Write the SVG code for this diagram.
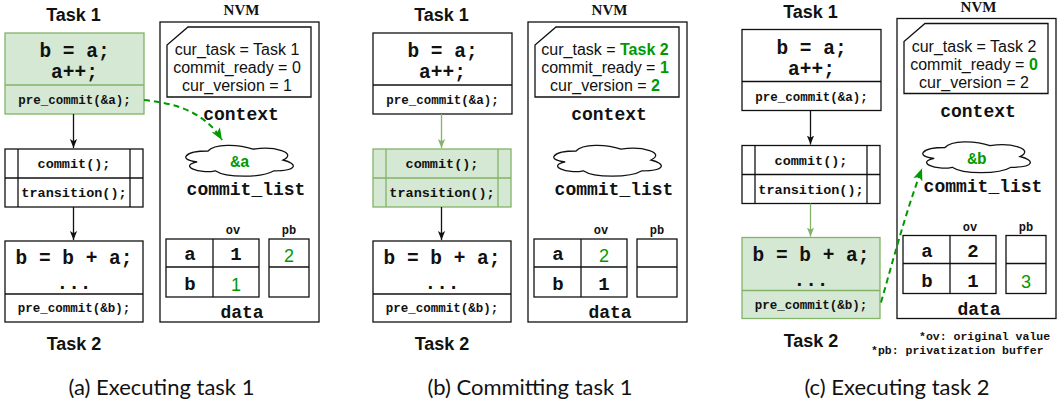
<svg xmlns="http://www.w3.org/2000/svg" width="1064" height="405" viewBox="0 0 1064 405">
<style>
.bg{fill:#fff}
.box{fill:#fff;stroke:#111;stroke-width:1.3}
.gbox{fill:#d5e8d4;stroke:#82b366;stroke-width:1.3}
.ln{stroke:#111;stroke-width:1.3;fill:none}
.gln{stroke:#82b366;stroke-width:1.3;fill:none}
.code{font-family:"Liberation Mono",monospace;font-weight:bold;text-anchor:middle;fill:#111}
.big{font-size:19.5px}
.mid{font-size:13.5px}
.sm{font-size:12.5px}
.lbl{font-size:18px}
.cell{font-size:19px}
.hd{font-size:12px}
.ctx{font-family:"Liberation Sans",Arial,sans-serif;font-size:16px;text-anchor:middle;fill:#111}
.task{font-family:"Liberation Sans",Arial,sans-serif;font-size:18px;font-weight:bold;text-anchor:middle;fill:#111}
.nvm{font-family:"Liberation Serif",serif;font-size:15px;font-weight:bold;text-anchor:middle;fill:#111}
.gv{font-family:"Liberation Sans",Arial,sans-serif;font-size:18px;text-anchor:middle;fill:#009900}
.gb{fill:#009900;font-weight:bold}
.gcode{fill:#009900}
.cap{font-family:Lato,"Noto Sans",sans-serif;font-size:22px;text-anchor:middle;fill:#111}
.foot{font-family:"Liberation Mono",monospace;font-weight:bold;font-size:11.5px;fill:#111}
.arr{stroke:#111;stroke-width:1.3;fill:none;marker-end:url(#mk)}
.garr{stroke:#82b366;stroke-width:1.3;fill:none;marker-end:url(#mkg)}
.darr{stroke:#009900;stroke-width:2;fill:none;stroke-dasharray:6 4;marker-end:url(#mkd)}
</style>
<defs>
<marker id="mk" viewBox="0 0 10 10" markerWidth="9" markerHeight="9" refX="10" refY="5" orient="auto" markerUnits="userSpaceOnUse"><path d="M0,1 L10,5 L0,9 L2.5,5 Z" fill="#111"/></marker>
<marker id="mkg" viewBox="0 0 10 10" markerWidth="9" markerHeight="9" refX="10" refY="5" orient="auto" markerUnits="userSpaceOnUse"><path d="M0,1 L10,5 L0,9 L2.5,5 Z" fill="#82b366"/></marker>
<marker id="mkd" viewBox="0 0 10 10" markerWidth="12" markerHeight="12" refX="10" refY="5" orient="auto" markerUnits="userSpaceOnUse"><path d="M0,1 L10,5 L0,9 L2.5,5 Z" fill="#009900"/></marker>
<path id="cloud" class="box" d="M208,151 C184,151 178,160 197.2,161.8 C178,165.76 199.6,174.4 215.2,170.8 C226,178 262,178 274,170.8 C298,170.8 298,163.6 283,160 C298,152.8 274,145.6 253,149.2 C238,143.8 214,143.8 208,151 Z"/>
<path id="ctxbox" class="box" d="M188,27 L311,27 L311,97 L167,97 L167,45 Z"/>
</defs>
<rect class="bg" x="0" y="0" width="1064" height="405"/>

<!-- ===== Panel (a) ===== -->
<g id="panel-a">
  <g id="a-task1">
    <text class="task" x="73.5" y="21">Task 1</text>
    <rect class="gbox" x="5" y="33" width="139" height="81"/>
    <line class="gln" x1="5" y1="85" x2="144" y2="85"/>
    <text class="code big" x="74.5" y="57">b = a;</text>
    <text class="code big" x="74.5" y="78">a++;</text>
    <text class="code sm" x="74.5" y="104">pre_commit(&amp;a);</text>
  </g>
  <g id="a-commit">
    <rect class="box" x="5" y="149" width="138" height="58"/>
    <line class="ln" x1="18" y1="149" x2="18" y2="207"/>
    <line class="ln" x1="130" y1="149" x2="130" y2="207"/>
    <line class="ln" x1="5" y1="178" x2="143" y2="178"/>
    <text class="code mid" x="74" y="168">commit();</text>
    <text class="code mid" x="74" y="197">transition();</text>
  </g>
  <g id="a-task2">
    <rect class="box" x="5" y="241" width="138" height="81"/>
    <line class="ln" x1="5" y1="294" x2="143" y2="294"/>
    <text class="code big" x="74" y="264">b = b + a;</text>
    <text class="code big" x="74" y="289">...</text>
    <text class="code sm" x="74" y="312">pre_commit(&amp;b);</text>
    <text class="task" x="74" y="350">Task 2</text>
  </g>
  <g id="a-nvm">
    <text class="nvm" x="241.5" y="15">NVM</text>
    <rect class="box" x="160" y="22" width="159" height="300"/>
  </g>
  <g id="a-context">
    <use href="#ctxbox"/>
    <text class="ctx" x="237" y="55">cur_task = Task 1</text>
    <text class="ctx" x="237" y="73">commit_ready = 0</text>
    <text class="ctx" x="237" y="91">cur_version = 1</text>
    <text class="code lbl" x="241" y="120">context</text>
  </g>
  <g id="a-commitlist">
    <use href="#cloud"/>
    <text class="code gcode" x="240" y="167" style="font-size:16px">&amp;a</text>
    <text class="code lbl" x="246" y="195">commit_list</text>
  </g>
  <g id="a-data">
    <text class="code hd" x="233" y="234">ov</text>
    <text class="code hd" x="289" y="234">pb</text>
    <rect class="box" x="166" y="239" width="93" height="58"/>
    <line class="ln" x1="213" y1="239" x2="213" y2="297"/>
    <line class="ln" x1="166" y1="267" x2="259" y2="267"/>
    <rect class="box" x="269" y="239" width="40" height="58"/>
    <line class="ln" x1="269" y1="267" x2="309" y2="267"/>
    <text class="code cell" x="190" y="260">a</text>
    <text class="code cell" x="236" y="260">1</text>
    <text class="gv" x="289" y="262">2</text>
    <text class="code cell" x="190" y="290">b</text>
    <text class="gv" x="236" y="291">1</text>
    <text class="code lbl" x="242" y="318">data</text>
  </g>
  <g id="a-connectors">
    <line class="arr" x1="73.5" y1="114" x2="73.5" y2="148"/>
    <line class="arr" x1="73.5" y1="207" x2="73.5" y2="240"/>
    <path class="darr" d="M144,100 C175,103 205,112 222,140"/>
  </g>
  <text class="cap" x="161.5" y="395">(a) Executing task 1</text>
</g>

<!-- ===== Panel (b) ===== -->
<g id="panel-b" transform="translate(368,0)">
  <g id="b-task1">
    <text class="task" x="73.5" y="21">Task 1</text>
    <rect class="box" x="5" y="33" width="139" height="81"/>
    <line class="ln" x1="5" y1="85" x2="144" y2="85"/>
    <text class="code big" x="74.5" y="57">b = a;</text>
    <text class="code big" x="74.5" y="78">a++;</text>
    <text class="code sm" x="74.5" y="104">pre_commit(&amp;a);</text>
  </g>
  <g id="b-commit">
    <rect class="gbox" x="5" y="149" width="138" height="58"/>
    <line class="gln" x1="18" y1="149" x2="18" y2="207"/>
    <line class="gln" x1="130" y1="149" x2="130" y2="207"/>
    <line class="gln" x1="5" y1="178" x2="143" y2="178"/>
    <text class="code mid" x="74" y="168">commit();</text>
    <text class="code mid" x="74" y="197">transition();</text>
  </g>
  <g id="b-task2">
    <rect class="box" x="5" y="241" width="138" height="81"/>
    <line class="ln" x1="5" y1="294" x2="143" y2="294"/>
    <text class="code big" x="74" y="264">b = b + a;</text>
    <text class="code big" x="74" y="289">...</text>
    <text class="code sm" x="74" y="312">pre_commit(&amp;b);</text>
    <text class="task" x="74" y="350">Task 2</text>
  </g>
  <g id="b-nvm">
    <text class="nvm" x="241.5" y="15">NVM</text>
    <rect class="box" x="160" y="22" width="159" height="300"/>
  </g>
  <g id="b-context">
    <use href="#ctxbox"/>
    <text class="ctx" x="237" y="55">cur_task = <tspan class="gb">Task 2</tspan></text>
    <text class="ctx" x="237" y="73">commit_ready = <tspan class="gb">1</tspan></text>
    <text class="ctx" x="237" y="91">cur_version = <tspan class="gb">2</tspan></text>
    <text class="code lbl" x="241" y="120">context</text>
  </g>
  <g id="b-commitlist">
    <use href="#cloud"/>
    <text class="code lbl" x="246" y="195">commit_list</text>
  </g>
  <g id="b-data">
    <text class="code hd" x="233" y="234">ov</text>
    <text class="code hd" x="289" y="234">pb</text>
    <rect class="box" x="166" y="239" width="93" height="58"/>
    <line class="ln" x1="213" y1="239" x2="213" y2="297"/>
    <line class="ln" x1="166" y1="267" x2="259" y2="267"/>
    <rect class="box" x="269" y="239" width="40" height="58"/>
    <line class="ln" x1="269" y1="267" x2="309" y2="267"/>
    <text class="code cell" x="190" y="260">a</text>
    <text class="gv" x="236" y="262">2</text>
    <text class="code cell" x="190" y="290">b</text>
    <text class="code cell" x="236" y="290">1</text>
    <text class="code lbl" x="242" y="318">data</text>
  </g>
  <g id="b-connectors">
    <line class="garr" x1="73.5" y1="114" x2="73.5" y2="148"/>
    <line class="arr" x1="73.5" y1="207" x2="73.5" y2="240"/>
  </g>
  <text class="cap" x="162" y="395">(b) Committing task 1</text>
</g>

<!-- ===== Panel (c) ===== -->
<g id="panel-c" transform="translate(737,-3.5)">
  <g id="c-task1">
    <text class="task" x="73.5" y="21">Task 1</text>
    <rect class="box" x="5" y="33" width="139" height="81"/>
    <line class="ln" x1="5" y1="85" x2="144" y2="85"/>
    <text class="code big" x="74.5" y="57">b = a;</text>
    <text class="code big" x="74.5" y="78">a++;</text>
    <text class="code sm" x="74.5" y="104">pre_commit(&amp;a);</text>
  </g>
  <g id="c-commit">
    <rect class="box" x="5" y="149" width="138" height="58"/>
    <line class="ln" x1="18" y1="149" x2="18" y2="207"/>
    <line class="ln" x1="130" y1="149" x2="130" y2="207"/>
    <line class="ln" x1="5" y1="178" x2="143" y2="178"/>
    <text class="code mid" x="74" y="168">commit();</text>
    <text class="code mid" x="74" y="197">transition();</text>
  </g>
  <g id="c-task2">
    <rect class="gbox" x="5" y="241" width="138" height="81"/>
    <line class="gln" x1="5" y1="294" x2="143" y2="294"/>
    <text class="code big" x="74" y="264">b = b + a;</text>
    <text class="code big" x="74" y="289">...</text>
    <text class="code sm" x="74" y="312">pre_commit(&amp;b);</text>
    <text class="task" x="74" y="350">Task 2</text>
  </g>
  <g id="c-nvm">
    <text class="nvm" x="241.5" y="15">NVM</text>
    <rect class="box" x="160" y="22" width="159" height="300"/>
  </g>
  <g id="c-context">
    <use href="#ctxbox"/>
    <text class="ctx" x="237" y="55">cur_task = Task 2</text>
    <text class="ctx" x="237" y="73">commit_ready = <tspan class="gb">0</tspan></text>
    <text class="ctx" x="237" y="91">cur_version = 2</text>
    <text class="code lbl" x="241" y="120">context</text>
  </g>
  <g id="c-commitlist">
    <use href="#cloud"/>
    <text class="code gcode" x="240" y="167" style="font-size:16px">&amp;b</text>
    <text class="code lbl" x="246" y="195">commit_list</text>
  </g>
  <g id="c-data">
    <text class="code hd" x="233" y="234">ov</text>
    <text class="code hd" x="289" y="234">pb</text>
    <rect class="box" x="166" y="239" width="93" height="58"/>
    <line class="ln" x1="213" y1="239" x2="213" y2="297"/>
    <line class="ln" x1="166" y1="267" x2="259" y2="267"/>
    <rect class="box" x="269" y="239" width="40" height="58"/>
    <line class="ln" x1="269" y1="267" x2="309" y2="267"/>
    <text class="code cell" x="190" y="260">a</text>
    <text class="code cell" x="236" y="260">2</text>
    <text class="code cell" x="190" y="290">b</text>
    <text class="code cell" x="236" y="290">1</text>
    <text class="gv" x="289" y="291">3</text>
    <text class="code lbl" x="242" y="318">data</text>
  </g>
  <g id="c-connectors">
    <line class="arr" x1="73.5" y1="114" x2="73.5" y2="148"/>
    <line class="garr" x1="73.5" y1="207" x2="73.5" y2="240"/>
    <path class="darr" d="M144,306 C156,264 168,218 185,172"/>
  </g>
  <g id="c-footnote">
    <text class="foot" x="182" y="343.5">*ov: original value</text>
    <text class="foot" x="134" y="357.5">*pb: privatization buffer</text>
  </g>
  <text class="cap" x="160" y="398.5">(c) Executing task 2</text>
</g>
</svg>
